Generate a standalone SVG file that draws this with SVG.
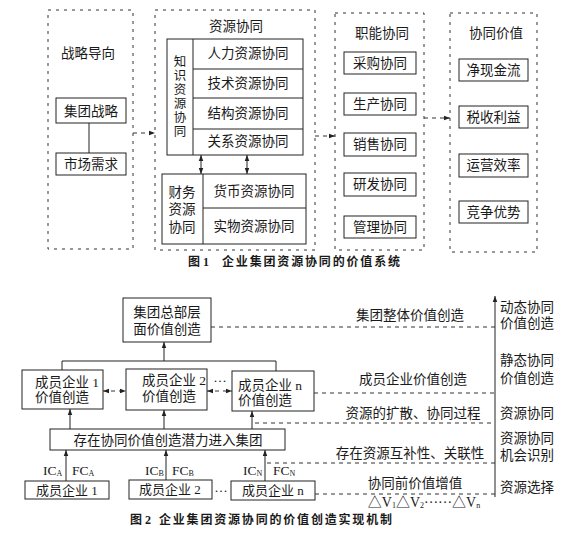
<svg xmlns="http://www.w3.org/2000/svg" width="570" height="537" viewBox="0 0 570 537">
<defs>
<style>
text{font-family:"Liberation Serif","Noto Sans CJK SC",serif;font-size:13.5px;fill:#1a1a1a;dominant-baseline:central}
.m{text-anchor:middle}
.v{font-size:12.5px;text-anchor:middle}
.s{font-size:13px}
.box{fill:none;stroke:#222;stroke-width:1}
.dbox{fill:none;stroke:#333;stroke-width:1;stroke-dasharray:3,5}
.ln{fill:none;stroke:#222;stroke-width:1}
.dl{fill:none;stroke:#333;stroke-width:1;stroke-dasharray:4,4}
.cap{font-size:12px;font-weight:bold}
.sub{font-size:8px}
</style>
<marker id="ah" viewBox="0 0 8 8" refX="8" refY="4" markerWidth="6" markerHeight="6" orient="auto-start-reverse" markerUnits="userSpaceOnUse">
<path d="M0,1 L8,4 L0,7 Z" fill="#222"/>
</marker>
</defs>
<rect width="570" height="537" fill="#fff"/>

<!-- Figure 1 -->
<g id="strategy">
<rect class="dbox" x="48" y="10" width="85" height="239"/>
<text class="m" x="88" y="53">战略导向</text>
</g>
<g id="group-strategy">
<rect class="box" x="56" y="98" width="70" height="25"/>
<text class="m" x="91" y="111">集团战略</text>
</g>
<g id="market-demand">
<rect class="box" x="56" y="153" width="70" height="22"/>
<text class="m" x="91" y="164">市场需求</text>
</g>

<g id="resource-synergy">
<rect class="dbox" x="155" y="10" width="160" height="240"/>
<text class="m" x="236" y="26">资源协同</text>
</g>
<g id="knowledge">
<rect class="box" x="167" y="39" width="136" height="116"/>
<line class="ln" x1="193" y1="39" x2="193" y2="155"/>
<line class="ln" x1="193" y1="69" x2="303" y2="69"/>
<line class="ln" x1="193" y1="98" x2="303" y2="98"/>
<line class="ln" x1="193" y1="129" x2="303" y2="129"/>
<text class="v" x="180" y="62">知</text>
<text class="v" x="180" y="76">识</text>
<text class="v" x="180" y="90">资</text>
<text class="v" x="180" y="104">源</text>
<text class="v" x="180" y="118">协</text>
<text class="v" x="180" y="132">同</text>
<text class="m" x="248" y="53">人力资源协同</text>
<text class="m" x="248" y="83">技术资源协同</text>
<text class="m" x="248" y="113">结构资源协同</text>
<text class="m" x="248" y="141">关系资源协同</text>
</g>
<g id="financial">
<rect class="box" x="162" y="174" width="144" height="70"/>
<line class="ln" x1="203" y1="174" x2="203" y2="244"/>
<line class="ln" x1="203" y1="208" x2="306" y2="208"/>
<text class="m" x="182" y="192">财务</text>
<text class="m" x="182" y="209">资源</text>
<text class="m" x="182" y="227">协同</text>
<text class="m" x="254" y="191">货币资源协同</text>
<text class="m" x="254" y="226">实物资源协同</text>
</g>

<g id="functional">
<rect class="dbox" x="335" y="13" width="89" height="237"/>
<text class="m" x="382" y="33">职能协同</text>
<rect class="box" x="344" y="52" width="72" height="22"/>
<text class="m" x="380" y="63">采购协同</text>
<rect class="box" x="344" y="93" width="72" height="22"/>
<text class="m" x="380" y="104">生产协同</text>
<rect class="box" x="344" y="133" width="72" height="23"/>
<text class="m" x="380" y="144.5">销售协同</text>
<rect class="box" x="344" y="173" width="72" height="23"/>
<text class="m" x="380" y="184.5">研发协同</text>
<rect class="box" x="344" y="216" width="72" height="22"/>
<text class="m" x="380" y="227">管理协同</text>
</g>

<g id="synergy-value">
<rect class="dbox" x="450" y="13" width="87" height="239"/>
<text class="m" x="496" y="33">协同价值</text>
<rect class="box" x="459" y="59" width="69" height="22"/>
<text class="m" x="493.5" y="70">净现金流</text>
<rect class="box" x="459" y="106" width="69" height="22"/>
<text class="m" x="493.5" y="117">税收利益</text>
<rect class="box" x="459" y="154" width="69" height="23"/>
<text class="m" x="493.5" y="165.5">运营效率</text>
<rect class="box" x="459" y="201" width="69" height="22"/>
<text class="m" x="493.5" y="212">竞争优势</text>
</g>

<g id="fig1-connectors">
<line class="ln" x1="89" y1="123" x2="89" y2="153"/>
<line class="dl" x1="133" y1="133" x2="155" y2="133" marker-end="url(#ah)"/>
<line class="ln" x1="201" y1="155" x2="201" y2="174" marker-start="url(#ah)" marker-end="url(#ah)"/>
<line class="ln" x1="247" y1="155" x2="247" y2="174" marker-start="url(#ah)" marker-end="url(#ah)"/>
<line class="dl" x1="315" y1="136" x2="335" y2="136" marker-end="url(#ah)"/>
<line class="dl" x1="424" y1="118" x2="450" y2="118" marker-end="url(#ah)"/>
</g>

<text class="cap" x="188" y="262">图 1</text>
<text class="cap" x="222" y="262" textLength="178" lengthAdjust="spacing">企业集团资源协同的价值系统</text>

<!-- Figure 2 -->
<g id="hq">
<rect class="box" x="123" y="298" width="88" height="44"/>
<text class="m" x="167" y="312">集团总部层</text>
<text class="m" x="167" y="329">面价值创造</text>
</g>
<g id="member1-value">
<rect class="box" x="22" y="370" width="81" height="39"/>
<text x="35" y="382">成员企业 1</text>
<text x="35" y="397">价值创造</text>
</g>
<g id="member2-value">
<rect class="box" x="126" y="369" width="81" height="41"/>
<text x="142" y="380">成员企业 2</text>
<text x="142" y="396">价值创造</text>
</g>
<text class="m" x="220" y="380">···</text>
<g id="membern-value">
<rect class="box" x="232" y="371" width="82" height="40"/>
<text x="238" y="385">成员企业 n</text>
<text x="238" y="400">价值创造</text>
</g>
<g id="potential">
<rect class="box" x="50" y="429" width="235" height="21"/>
<text class="m" x="168" y="440">存在协同价值创造潜力进入集团</text>
</g>
<g id="member1">
<rect class="box" x="25" y="481" width="84" height="18"/>
<text class="m s" x="67" y="490">成员企业 1</text>
</g>
<g id="member2">
<rect class="box" x="129" y="480" width="83" height="19"/>
<text class="m s" x="170" y="489">成员企业 2</text>
</g>
<text class="m" x="221" y="490">···</text>
<g id="membern">
<rect class="box" x="231" y="481" width="84" height="19"/>
<text class="m s" x="273" y="490.5">成员企业 n</text>
</g>

<g id="labels">
<text x="43" y="470">IC<tspan class="sub" dy="3">A</tspan></text>
<text x="72" y="470">FC<tspan class="sub" dy="3">A</tspan></text>
<text x="145" y="470">IC<tspan class="sub" dy="3">B</tspan></text>
<text x="172" y="470">FC<tspan class="sub" dy="3">B</tspan></text>
<text x="243" y="470">IC<tspan class="sub" dy="3">N</tspan></text>
<text x="273" y="470">FC<tspan class="sub" dy="3">N</tspan></text>
<text class="m" x="410" y="315">集团整体价值创造</text>
<text class="m" x="413" y="379">成员企业价值创造</text>
<text class="m" x="413" y="413">资源的扩散、协同过程</text>
<text class="m" x="410" y="453">存在资源互补性、关联性</text>
<text class="m" x="415" y="483">协同前价值增值</text>
<text class="m" x="424" y="502" style="font-size:14px">△V<tspan class="sub" dy="3">1</tspan><tspan dy="-3">△V</tspan><tspan class="sub" dy="3">2</tspan><tspan dy="-3">······△V</tspan><tspan class="sub" dy="3">n</tspan></text>
<text x="500" y="307">动态协同</text>
<text x="500" y="323">价值创造</text>
<text x="500" y="360">静态协同</text>
<text x="500" y="378">价值创造</text>
<text x="500" y="413">资源协同</text>
<text x="500" y="438">资源协同</text>
<text x="500" y="455">机会识别</text>
<text x="500" y="487">资源选择</text>
</g>

<g id="fig2-connectors">
<line class="ln" x1="164" y1="361" x2="164" y2="342" marker-end="url(#ah)"/>
<polyline class="ln" points="62,370 62,361 276,361 276,371"/>
<line class="dl" x1="103" y1="391" x2="126" y2="391" marker-start="url(#ah)" marker-end="url(#ah)"/>
<line class="dl" x1="207" y1="391" x2="232" y2="391" marker-start="url(#ah)" marker-end="url(#ah)"/>
<line class="ln" x1="70" y1="429" x2="70" y2="409" marker-end="url(#ah)"/>
<line class="ln" x1="164" y1="429" x2="164" y2="410" marker-end="url(#ah)"/>
<line class="ln" x1="252" y1="429" x2="252" y2="411" marker-end="url(#ah)"/>
<line class="ln" x1="66" y1="481" x2="66" y2="450" marker-end="url(#ah)"/>
<line class="ln" x1="166" y1="480" x2="166" y2="450" marker-end="url(#ah)"/>
<line class="ln" x1="265" y1="481" x2="265" y2="450" marker-end="url(#ah)"/>
<line class="dl" x1="211" y1="327" x2="495" y2="327"/>
<line class="dl" x1="314" y1="393" x2="495" y2="393"/>
<line class="dl" x1="255" y1="423" x2="495" y2="423"/>
<line class="dl" x1="267" y1="463" x2="495" y2="463"/>
<line class="dl" x1="315" y1="494" x2="495" y2="494"/>
<line class="ln" x1="495" y1="497" x2="495" y2="296" marker-end="url(#ah)"/>
</g>

<text class="cap" x="130" y="520">图 2</text>
<text class="cap" x="159" y="520" textLength="233" lengthAdjust="spacing">企业集团资源协同的价值创造实现机制</text>
</svg>
